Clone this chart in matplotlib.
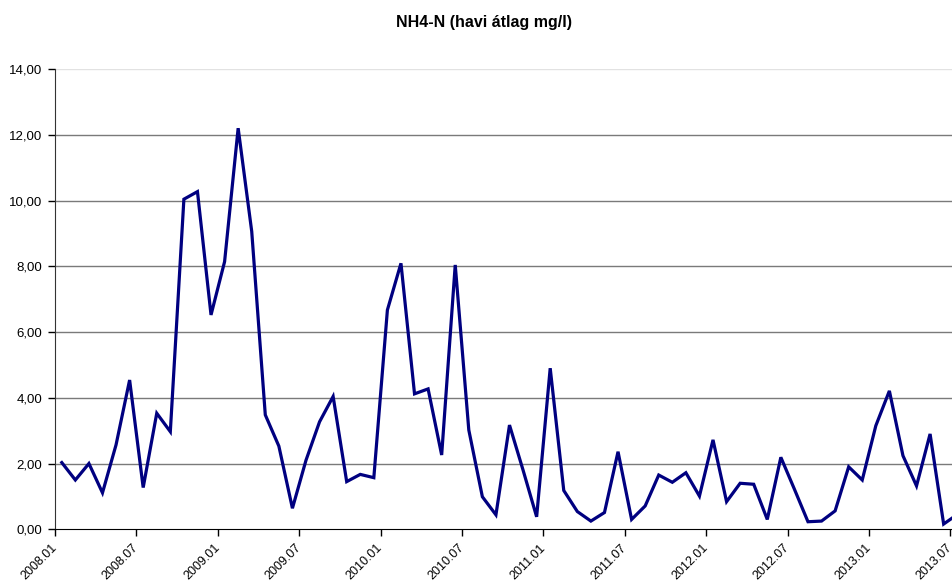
import matplotlib.pyplot as plt
from matplotlib.ticker import FuncFormatter

plt.rcParams['font.family'] = ['Liberation Sans', 'DejaVu Sans']

# havi atlagok 2008.01-tol
honapok = [f'{ev}.{ho:02d}' for ev in range(2008, 2014) for ho in range(1, 13)][:67]
nh4_n = [2.03, 1.50, 2.00, 1.11, 2.57, 4.54, 1.27, 3.53, 2.97, 10.04, 10.27, 6.52,
         8.14, 12.20, 9.06, 3.48, 2.53, 0.64, 2.10, 3.27, 4.04, 1.45, 1.67, 1.57,
         6.67, 8.09, 4.12, 4.27, 2.26, 8.04, 3.02, 0.99, 0.44, 3.17, 1.80, 0.38,
         4.90, 1.18, 0.54, 0.25, 0.51, 2.36, 0.30, 0.71, 1.65, 1.43, 1.72, 1.01,
         2.72, 0.84, 1.40, 1.37, 0.30, 2.19, 1.22, 0.23, 0.25, 0.56, 1.90, 1.50,
         3.15, 4.21, 2.24, 1.32, 2.90, 0.16, 0.45]
tick_cimkek = [h for h in honapok if h.endswith('.01') or h.endswith('.07')]
y_ticks = [0, 2, 4, 6, 8, 10, 12, 14]

W, H = 952, 583
fig = plt.figure(figsize=(W / 100, H / 100), dpi=100)
# a rajzterulet jobb szele kilog a kepbol
ax = fig.add_axes([55 / W, (H - 529.3) / H, (964 - 55) / W, (529.3 - 69) / H])

x = [i + 0.5 for i in range(len(nh4_n))]
ax.plot(x, nh4_n, color='#000080', linewidth=2.3, solid_joinstyle='miter', zorder=3)

ax.set_xlim(0, len(nh4_n))
ax.set_ylim(0, 14)

for v in y_ticks[1:-1]:
    ax.axhline(v, color='#7a7a7a', linewidth=1.0, zorder=1)
ax.axhline(14, color='#e2e2e2', linewidth=1.0, zorder=1)

ax.set_yticks(y_ticks)
ax.yaxis.set_major_formatter(FuncFormatter(lambda v, p: f'{v:.2f}'.replace('.', ',')))
pos = [honapok.index(h) for h in tick_cimkek]
ax.set_xticks(pos)
ax.set_xticklabels(tick_cimkek, rotation=45, ha='right', va='center', rotation_mode='anchor')
ax.tick_params(axis='both', labelsize=9.5, length=5, width=1, color='black', direction='out')
ax.tick_params(axis='x', labelsize=9, pad=7)
ax.tick_params(axis='y', pad=4)

for s in ['top', 'right']:
    ax.spines[s].set_visible(False)
ax.spines['left'].set_color('#333333')
ax.spines['bottom'].set_color('black')

fig.text(484 / W, 1 - 22 / H, 'NH4-N (havi átlag mg/l)', ha='center', va='center',
         fontsize=11.5, fontweight='bold')

fig.savefig('out.png', dpi=100)
